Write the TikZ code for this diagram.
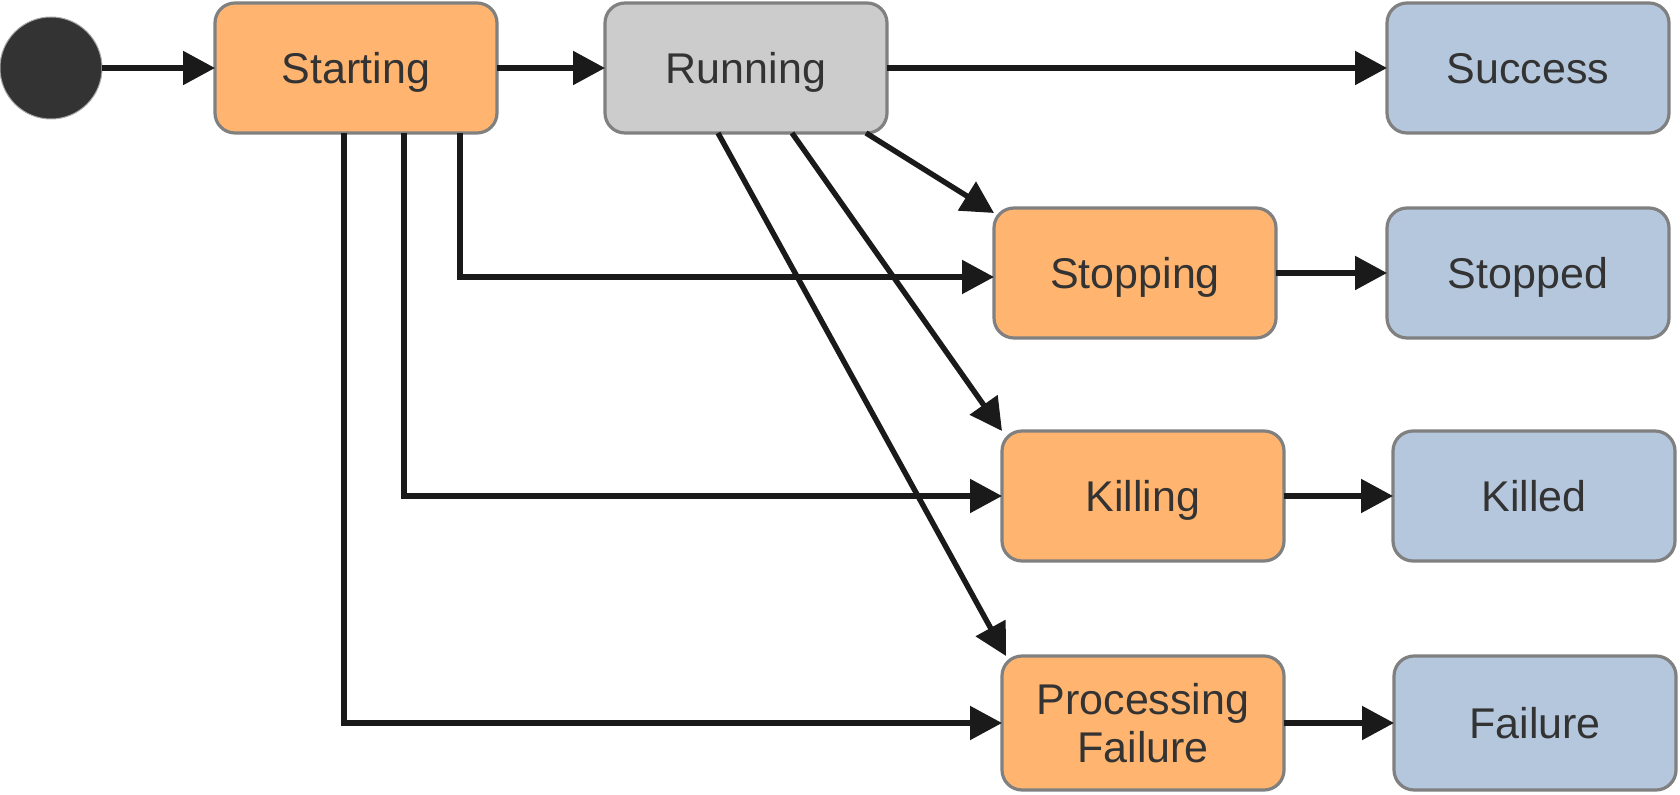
\documentclass[tikz,border=0pt]{standalone}
\usepackage{fontspec}
\setmainfont{Liberation Sans}
\usepackage{tikz}
\usetikzlibrary{arrows.meta,positioning}
\definecolor{StateOrange}{HTML}{FFB570}
\definecolor{StateGray}{HTML}{CCCCCC}
\definecolor{StateBlue}{HTML}{B4C7DC}
\definecolor{EdgeGray}{HTML}{808080}
\definecolor{InkDark}{HTML}{333333}
\definecolor{ArrowBlack}{HTML}{1A1A1A}

\begin{document}
\begin{tikzpicture}[x=0.5pt,y=-0.5pt,>={Triangle[length=16pt,width=16.5pt]},
  state/.style={rounded corners=10pt,draw=EdgeGray,line width=1.6pt,outer sep=0pt,inner sep=0pt,
    minimum width=141pt,minimum height=65pt,text=InkDark,align=center,text depth=0pt,
    font=\fontsize{21.5}{24}\selectfont},
  flow/.style={->,draw=ArrowBlack,line width=2.7pt}]
\useasboundingbox (0,0) rectangle (1680,795);
\node[circle,fill=InkDark,draw=EdgeGray!70,line width=0.5pt,minimum size=51pt,inner sep=0pt,outer sep=0pt] (init) at (51,68) {};
\node[state,fill=StateOrange,right=56.5pt of init] (starting) {Starting};
\node[state,fill=StateGray,right=54pt of starting] (running) {Running};
\node[state,fill=StateBlue,right=250pt of running] (success) {Success};
\node[state,fill=StateOrange] (stopping) at (1135,273) {Stopping};
\node[state,fill=StateBlue,right=55.5pt of stopping] (stopped) {Stopped};
\node[state,fill=StateOrange] (killing) at (1143,496) {Killing};
\node[state,fill=StateBlue,right=54.5pt of killing] (killed) {Killed};
\node[state,fill=StateOrange,minimum height=67pt] (procfail) at (1143,723) {Processing\\Failure};
\node[state,fill=StateBlue,minimum height=67pt,right=55pt of procfail] (failure) {Failure};
% main line
\draw[flow] (init)--(starting);
\draw[flow] (starting)--(running);
\draw[flow] (running)--(success);
% from starting
\draw[flow] ([xshift=52pt]starting.south) |- ([yshift=-2pt]stopping.west);
\draw[flow] ([xshift=24pt]starting.south) |- (killing.west);
\draw[flow] ([xshift=-6pt]starting.south) |- (procfail.west);
% from running
\draw[flow] ([xshift=-10.5pt]running.south east)--([yshift=-2.5pt]stopping.north west);
\draw[flow] ([xshift=23pt]running.south)--(killing.north west);
\draw[flow] ([xshift=-14pt]running.south)--([xshift=2pt]procfail.north west);
% end states
\draw[flow] (stopping)--(stopped);
\draw[flow] (killing)--(killed);
\draw[flow] (procfail)--(failure);
\end{tikzpicture}
\end{document}
